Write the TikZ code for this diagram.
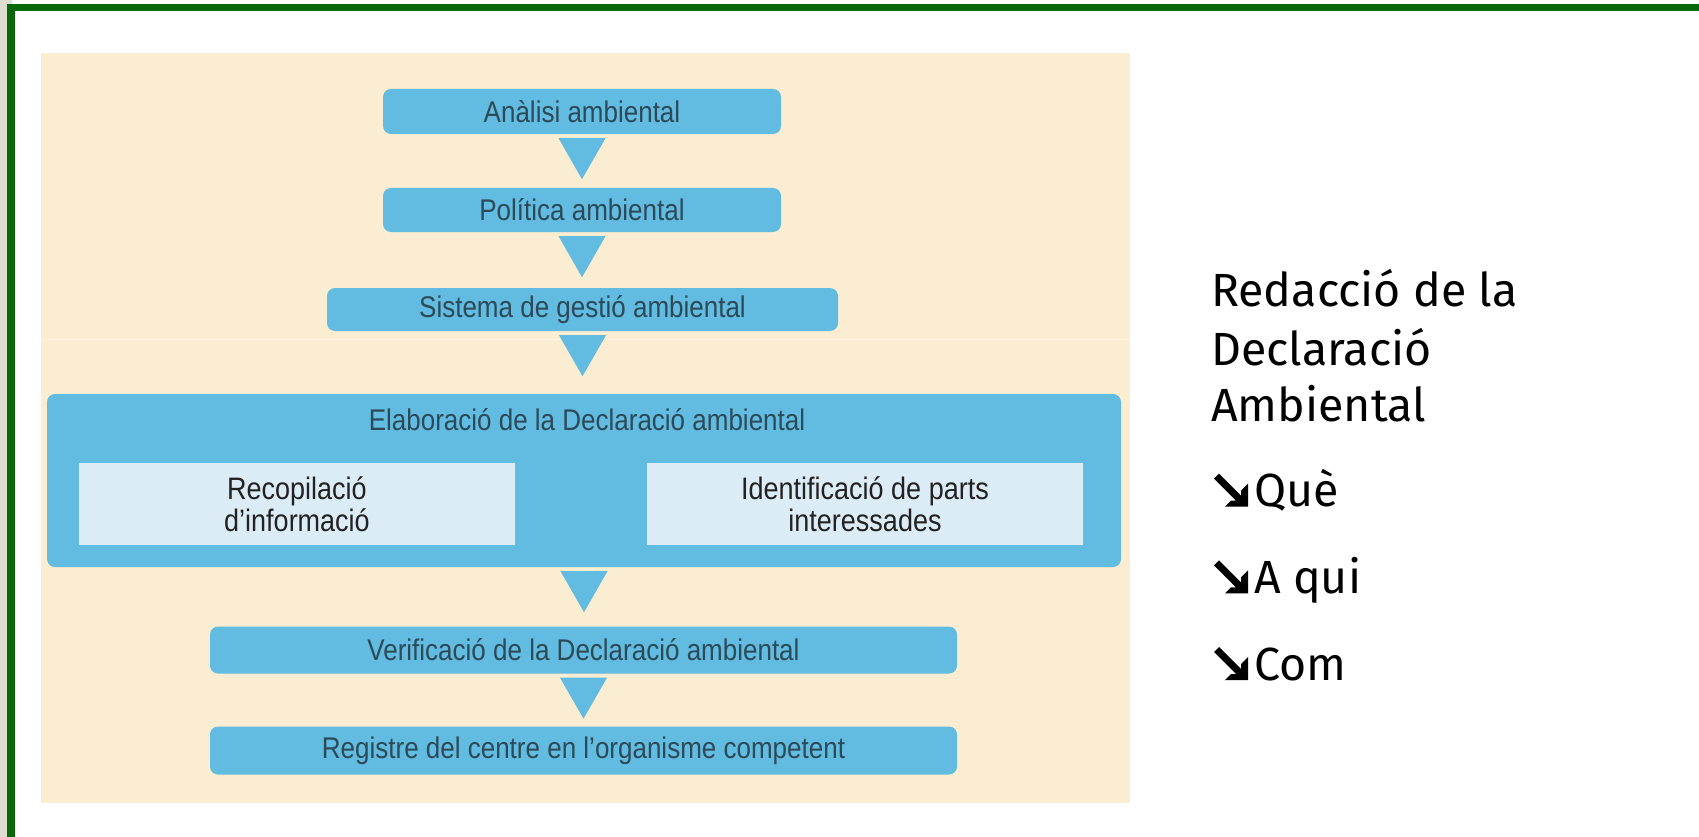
\documentclass[tikz,border=0pt]{standalone}
\usepackage{fontspec}
\usepackage{graphicx}
\setmainfont{Liberation Sans}
\newfontfamily\rfont{Fira Sans}
\usetikzlibrary{calc}

\definecolor{beige}{HTML}{FBEDD1}
\definecolor{beigeline}{HTML}{FDF4E2}
\definecolor{boxblue}{HTML}{62BBE0}
\definecolor{innerblue}{HTML}{DCECF6}
\definecolor{frgreen}{HTML}{076807}
\definecolor{stripgray}{HTML}{DEDED0}
\definecolor{boxtext}{HTML}{2C4A58}
\definecolor{innertext}{HTML}{222222}

\newcommand\ft[1]{\scalebox{1}[1.15]{#1}}
\newcommand\flowtri[1]{\fill[boxblue] ($(#1.south)+(-23.5,4)$) -- ($(#1.south)+(23.5,4)$) -- ($(#1.south)+(0,45)$) -- cycle;}
\newcommand\bularrow[1]{%
  \begin{scope}[shift={($(#1.base west)+(-40,-33)$)}]
    \fill[black] (5,0) -- (27,22) -- (27,17) -- (34,10) -- (34,33) -- (11,33) -- (17,27) -- (22,27) -- (0,5) -- cycle;
  \end{scope}}

\begin{document}
\begin{tikzpicture}[x=1pt,y=-1pt,
  flowbox/.style={fill=boxblue, rounded corners=8pt, draw=none, inner sep=0pt,
    text=boxtext, font=\fontsize{26}{30}\selectfont},
  innerbox/.style={fill=innerblue, draw=none, inner sep=0pt, align=center,
    text=innertext, font=\fontsize{27}{32}\selectfont},
  sidetext/.style={anchor=base west, inner sep=0pt, font=\rfont\fontsize{46.5}{57}\selectfont, text=black}
]
\useasboundingbox (0,0) rectangle (1699,837);
% frame
\fill[white] (0,0) rectangle (1699,837);
\fill[stripgray] (0,0) rectangle (7.3,837);
\fill[stripgray] (0,0) rectangle (12,4);
\fill[frgreen] (7.3,4) rectangle (15,837);
\fill[frgreen] (7.3,4) rectangle (1699,11.3);
% beige panel
\fill[beige] (41,53) rectangle (1130,803);
\fill[beigeline] (41,338.5) rectangle (1130,339.5);

% boxes
\node[flowbox, minimum width=398pt, minimum height=45pt] (b1) at (582,111.5) {\ft{Anàlisi ambiental}};
\node[flowbox, minimum width=398pt, minimum height=44pt] (b2) at (582,210) {\ft{Política ambiental}};
\node[flowbox, minimum width=511pt, minimum height=43pt] (b3) at (582.5,309.5) {\ft{Sistema de gestió ambiental}};
\node[flowbox, minimum width=1074pt, minimum height=173pt] (b4) at (584,480.5) {};
\node[text=boxtext, font=\fontsize{26}{30}\selectfont, inner sep=0pt] (b4t) at (587,420) {\ft{Elaboració de la Declaració ambiental}};
\node[innerbox, minimum width=436pt, minimum height=82pt] (i1) at (297,504) {\ft{Recopilació}\\\ft{d’informació}};
\node[innerbox, minimum width=436pt, minimum height=82pt] (i2) at (865,504) {\ft{Identificació de parts}\\\ft{interessades}};
\node[flowbox, minimum width=747pt, minimum height=47pt] (b5) at (583.5,650) {\ft{Verificació de la Declaració ambiental}};
\node[flowbox, minimum width=747pt, minimum height=48pt] (b6) at (583.5,750.5) {\ft{Registre del centre en l’organisme competent}};

% connectors (triangles)
\flowtri{b1}
\flowtri{b2}
\flowtri{b3}
\flowtri{b4}
\flowtri{b5}

% side text
\node[sidetext] (s1) at (1211,306.7) {Redacció de la};
\node[sidetext] (s2) at (1211,365) {Declaració};
\node[sidetext] (s3) at (1211,421.7) {Ambiental};
\node[sidetext] (q1) at (1254,506.7) {Què};
\node[sidetext] (q2) at (1254,593.3) {A qui};
\node[sidetext] (q3) at (1254,680) {Com};
\bularrow{q1}
\bularrow{q2}
\bularrow{q3}
\end{tikzpicture}
\end{document}
